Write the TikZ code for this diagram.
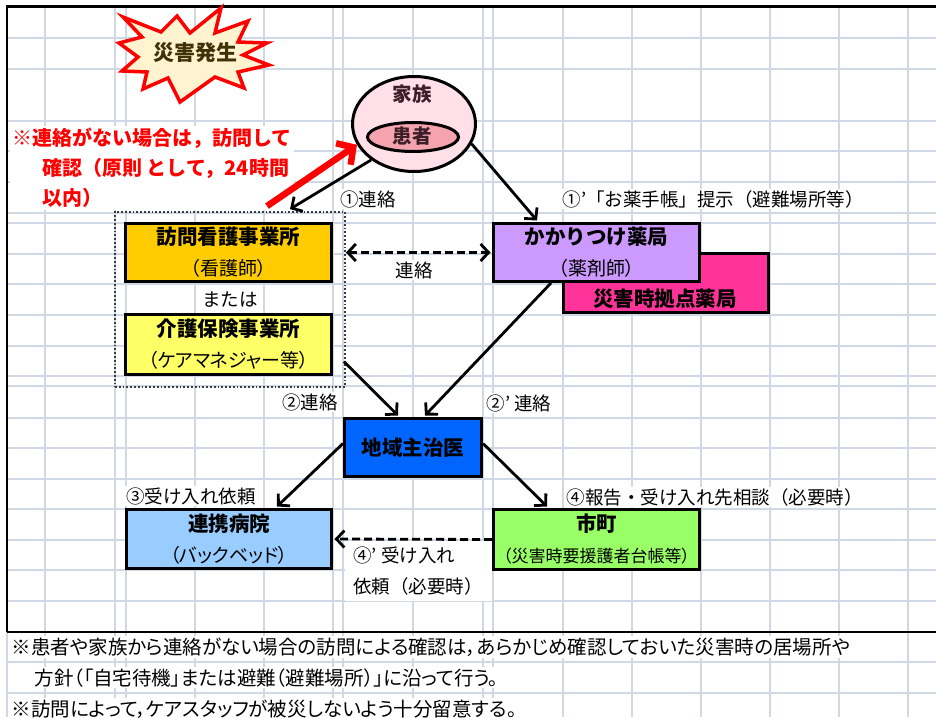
\documentclass[tikz,border=0pt]{standalone}
\usepackage{fontspec}
\setmainfont{Noto Sans CJK JP}
\newfontfamily\notefont{Noto Sans CJK JP}[RawFeature=+palt]
\newfontfamily\subfont{Noto Sans CJK JP}[RawFeature=+palt]
\usetikzlibrary{shapes.geometric,arrows.meta,calc}
\definecolor{gridc}{HTML}{D0D7E5}
\definecolor{kangoc}{HTML}{FFCC00}
\definecolor{kaigoc}{HTML}{FFFF66}
\definecolor{yakkyokuc}{HTML}{CC99FF}
\definecolor{kyotenc}{HTML}{FF3399}
\definecolor{chiikic}{HTML}{0066FF}
\definecolor{renkeic}{HTML}{99CCFF}
\definecolor{shichoc}{HTML}{99FF66}
\definecolor{famfill}{HTML}{FFDFE8}
\definecolor{patfill}{HTML}{F5A3AE}
\definecolor{famtext}{HTML}{3C1E28}
\definecolor{starfill}{HTML}{FFF3D0}
\definecolor{startext}{HTML}{3F3206}
\definecolor{groupc}{HTML}{3C3C3C}
\newcommand\bttl{\fontsize{20.5}{31}\selectfont\bfseries}
\begin{document}
\begin{tikzpicture}[x=1pt,y=-1pt,
  gridline/.style={draw=gridc,line width=1.4pt},
  box/.style={rectangle,draw=black,line width=3pt,inner sep=0pt,align=center,font=\subfont\fontsize{19}{31}\selectfont},
  lbl/.style={fill=white,inner sep=1.5pt,font=\fontsize{18.5}{31}\selectfont},
  note/.style={fill=white,inner sep=1.5pt,anchor=base west,font=\notefont\fontsize{19.5}{24}\selectfont},
  >={Straight Barb[length=8pt,width=17pt]},
  arr/.style={line width=2.8pt,->},
  darr/.style={line width=2.8pt,dash pattern=on 8pt off 4pt},
  redarr/.style={draw=red,line width=6.5pt,-{Straight Barb[length=12pt,width=26pt]}},
]
\useasboundingbox (0,0) rectangle (936,717);
\fill[white] (0,0) rectangle (936,717);
% grid
\foreach \x in {45,115,126,195,264,333,343,413,483,493,563,632,701,770,839,908}
  \draw[gridline] (\x,7) -- (\x,717);
\foreach \y in {38,69,121,151,182,213,223,254,284,315,346,376,386,418,448,479,509,540,570,601,662,693}
  \draw[gridline] (7,\y) -- (936,\y);
\draw[gridline] (7,632) -- (7,717);
% frame
\draw[line width=2.2pt] (7,632) -- (7,6.5) -- (936,6.5);
\draw[line width=1.4pt] (7,632) -- (936,632);

% star
\draw[draw=red,fill=starfill,line width=3.5pt,line join=miter]
  (123,17) -- (161,32) -- (177,16) -- (190,33) -- (221,8) -- (215,33) -- (248,21) -- (238,42)
  -- (267,43) -- (243,55) -- (269,65) -- (238,72) -- (244,88) -- (215,77) -- (180,102)
  -- (168,78) -- (143,89) -- (147,72) -- (122,71) -- (138,57) -- (119,43) -- (142,37) -- cycle;
\node[text=startext,font=\fontsize{21}{24}\selectfont\bfseries] (star) at (195,53) {災害発生};

% family
\node[ellipse,draw=black,fill=famfill,line width=3pt,minimum width=123pt,minimum height=95pt,inner sep=0pt] (family) at (414,124) {};
\node[ellipse,draw=black,fill=patfill,line width=3pt,minimum width=91pt,minimum height=29pt,inner sep=0pt] (patient) at (413,137) {};
\node[text=famtext,font=\fontsize{19.5}{20}\selectfont\bfseries] (famT) at (412,94) {家族};
\node[text=famtext,font=\fontsize{19.5}{20}\selectfont\bfseries] (patT) at (412,136.5) {患者};

% red note
\node[anchor=north west,fill=white,inner sep=2pt,align=left,text=red,font=\fontsize{20}{30}\selectfont\bfseries] (rednote) at (10,126)
  {※連絡がない場合は，訪問して\\\hspace*{30pt}確認（原則 として，24時間\\\hspace*{30pt}以内）};

% group
\node[draw=groupc,dotted,line width=1.8pt,minimum width=230pt,minimum height=175pt,inner sep=0pt] (group) at (230,299.5) {};

% boxes
\node[box,fill=kangoc,minimum width=206pt,minimum height=58pt] (kango) at (228.5,252.5) {{\rmfamily\bttl 訪問看護事業所}\\（看護師）};
\node[lbl] (mataha) at (230,300) {または};
\node[box,fill=kaigoc,minimum width=206pt,minimum height=60pt] (kaigo) at (228.5,344.5) {{\rmfamily\bttl 介護保険事業所}\\（ケアマネジャー等）};
\node[box,fill=kyotenc,minimum width=205pt,minimum height=59pt] (kyoten) at (666,283) {};
\node[font=\bttl] (kyotenT) at (665,299) {災害時拠点薬局};
\node[box,fill=yakkyokuc,minimum width=206pt,minimum height=58pt] (yakkyoku) at (596.5,252.5) {{\rmfamily\bttl かかりつけ薬局}\\（薬剤師）};
\node[box,fill=chiikic,minimum width=137pt,minimum height=58pt,font=\rmfamily\bttl] (chiiki) at (413,447.5) {地域主治医};
\node[box,fill=renkeic,minimum width=205pt,minimum height=59pt] (renkei) at (229,539) {{\rmfamily\bttl 連携病院}\\（バックベッド）};
\node[box,fill=shichoc,minimum width=206pt,minimum height=60pt] (shicho) at (596.5,539.5) {{\rmfamily\bttl 市町}\\{\fontsize{17}{31}\selectfont（災害時要援護者台帳等）}};

% labels
\node[lbl] (l1) at (368,199) {①連絡};
\node[lbl,anchor=west] (l1p) at (561,199) {①'「お薬手帳」提示（避難場所等）};
\node[lbl] (lrenraku) at (414,270) {連絡};
\node[lbl] (l2) at (310,402) {②連絡};
\node[lbl,anchor=west] (l2p) at (485,403) {②' 連絡};
\node[lbl] (l3) at (191,496) {③受け入れ依頼};
\node[lbl,anchor=west] (l4) at (565,497) {④報告・受け入れ先相談（必要時）};
\node[lbl,align=left,minimum width=147pt,minimum height=60pt] (l4p) at (418,571) {④' 受け入れ\\依頼（必要時）};

% notes
\node[note] (n1) at (10,654) {※患者や家族から連絡がない場合の訪問による確認は，あらかじめ確認しておいた災害時の居場所や};
\node[note] (n2) at (33,685) {方針（「自宅待機」または避難（避難場所）」に沿って行う。};
\node[note] (n3) at (10,716) {※訪問によって，ケアスタッフが被災しないよう十分留意する。};

% connectors
\draw[redarr] ($(group.north)+(37,-5)$) coordinate (redstart) -- (family.200);
\draw[arr] (family.220) -- ($(group.north)+(60,-2)$);
\draw[arr] (family.341) -- ($(yakkyoku.north west)+(45,-1.5)$);
\draw[darr,<->] (kango.east -| group.east) -- ($(yakkyoku.west)+(-1.5,0)$);
\draw[arr] ($(group.east)+(-2,62)$) -- ($(chiiki.north)+(-15,-1.5)$);
\draw[arr] ($(yakkyoku.south west)+(59,0)$) -- ($(chiiki.north)+(12,-1.5)$);
\draw[arr] ($(chiiki.west)+(0,-4)$) -- ($(renkei.north east)+(-56,-1.5)$);
\draw[arr] ($(chiiki.east)+(0,-4)$) -- ($(shicho.north west)+(55,-1.5)$);
\draw[darr,->] (shicho.west) -- ($(renkei.east)+(1.5,0)$);
\end{tikzpicture}
\end{document}
